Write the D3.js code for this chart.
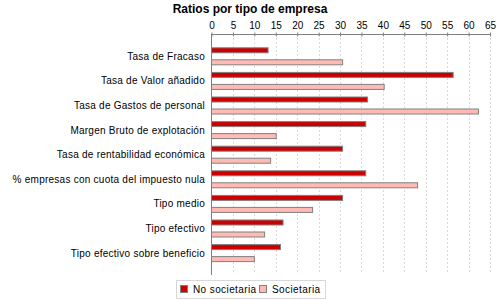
<!DOCTYPE html>
<html>
<head>
<meta charset="utf-8">
<script src="https://cdn.jsdelivr.net/npm/d3@7"></script>
<style>
  body { margin: 0; background: #fff; }
  text { font-family: "Liberation Sans", Arial, sans-serif; }
</style>
</head>
<body>
<script>
let svgWidth = 500;
let svgHeight = 300;

let categories = [
    "Tasa de Fracaso",
    "Tasa de Valor añadido",
    "Tasa de Gastos de personal",
    "Margen Bruto de explotación",
    "Tasa de rentabilidad económica",
    "% empresas con cuota del impuesto nula",
    "Tipo medio",
    "Tipo efectivo",
    "Tipo efectivo sobre beneficio"
];
let seriesNames = ["No societaria", "Societaria"];
let noSocietaria = [13.2, 56.4, 36.4, 36.0, 30.6, 36.0, 30.6, 16.7, 16.1];
let societaria = [30.6, 40.3, 62.3, 15.1, 13.8, 48.1, 23.6, 12.4, 10.0];
let xTicks = [0, 5, 10, 15, 20, 25, 30, 35, 40, 45, 50, 55, 60, 65];
let colors = ["#cc0000", "#ffbbb3"];

let plotLeft = 211.5, plotRight = 490, plotTop = 34, plotBottom = 273;

let svg = d3.select("body")
    .append("svg")
    .attr("width", svgWidth)
    .attr("height", svgHeight);

let rows = categories.map((c, i) => ({
    category: c,
    values: [noSocietaria[i], societaria[i]]
}));

let xScale = d3.scaleLinear()
    .domain([0, 65])
    .range([plotLeft, plotRight]);

let yScale = d3.scaleBand()
    .domain(categories)
    .range([44, 265.4])
    .padding(0);

let subScale = d3.scaleBand()
    .domain(seriesNames)
    .range([3.3, 21.3])
    .paddingInner(0.5);

// title
svg.append("text")
    .attr("x", 250)
    .attr("y", 13)
    .attr("text-anchor", "middle")
    .style("font-size", "12px")
    .style("font-weight", "bold")
    .text("Ratios por tipo de empresa");

// grid lines
svg.append("g")
    .selectAll("line")
    .data(xTicks.slice(1))
    .join("line")
    .attr("x1", d => Math.round(xScale(d)) + 0.5)
    .attr("x2", d => Math.round(xScale(d)) + 0.5)
    .attr("y1", plotTop)
    .attr("y2", plotBottom)
    .attr("stroke", "#dadada")
    .attr("stroke-dasharray", "2,2");

// top axis
let topAxis = d3.axisTop(xScale)
    .tickValues(xTicks)
    .tickSize(2)
    .tickPadding(4);

let axisG = svg.append("g")
    .attr("transform", `translate(0, ${plotTop + 0.5})`)
    .call(topAxis);
axisG.select(".domain").attr("stroke", "#808080").attr("d", `M${plotLeft},0H${plotRight}`);
axisG.selectAll(".tick line").attr("stroke", "#808080").attr("y2", 2).attr("y1", -2);
axisG.selectAll(".tick text")
    .style("font-size", "10px")
    .style("font-family", "'Liberation Sans', Arial, sans-serif")
    .attr("fill", "#000");

// left axis line
svg.append("line")
    .attr("x1", plotLeft)
    .attr("x2", plotLeft)
    .attr("y1", plotTop)
    .attr("y2", 275)
    .attr("stroke", "#808080");

// category labels
svg.append("g")
    .selectAll("text")
    .data(categories)
    .join("text")
    .attr("x", 205)
    .attr("y", d => yScale(d) + yScale.bandwidth() / 2)
    .attr("dy", "0.35em")
    .attr("text-anchor", "end")
    .style("font-size", "10px")
    .style("letter-spacing", "0.25px")
    .text(d => d);

// bars
let groups = svg.append("g")
    .selectAll("g")
    .data(rows)
    .join("g")
    .attr("transform", d => `translate(0, ${yScale(d.category)})`);

groups.selectAll("rect")
    .data(d => d.values.map((v, i) => ({ series: seriesNames[i], value: v, color: colors[i] })))
    .join("rect")
    .attr("x", xScale(0))
    .attr("y", d => subScale(d.series) + 0.5)
    .attr("width", d => xScale(d.value) - xScale(0))
    .attr("height", subScale.bandwidth() - 1)
    .attr("fill", d => d.color)
    .attr("stroke", "#808080")
    .attr("stroke-width", 1);

// legend
let legend = svg.append("g");
legend.append("rect")
    .attr("x", 176.5)
    .attr("y", 280.5)
    .attr("width", 149)
    .attr("height", 18)
    .attr("fill", "#fff")
    .attr("stroke", "#d8d8d8");

let legendX = [180, 259];
let items = legend.selectAll("g.item")
    .data(seriesNames)
    .join("g")
    .attr("class", "item")
    .attr("transform", (d, i) => `translate(${legendX[i]}, 285)`);

items.append("rect")
    .attr("x", 0.5)
    .attr("y", 0.5)
    .attr("width", 7)
    .attr("height", 7)
    .attr("fill", (d, i) => colors[i])
    .attr("stroke", "#808080");

items.append("text")
    .attr("x", 13)
    .attr("y", 4)
    .attr("dy", "0.35em")
    .style("font-size", "10px")
    .style("letter-spacing", "0.4px")
    .text(d => d);
</script>
</body>
</html>
